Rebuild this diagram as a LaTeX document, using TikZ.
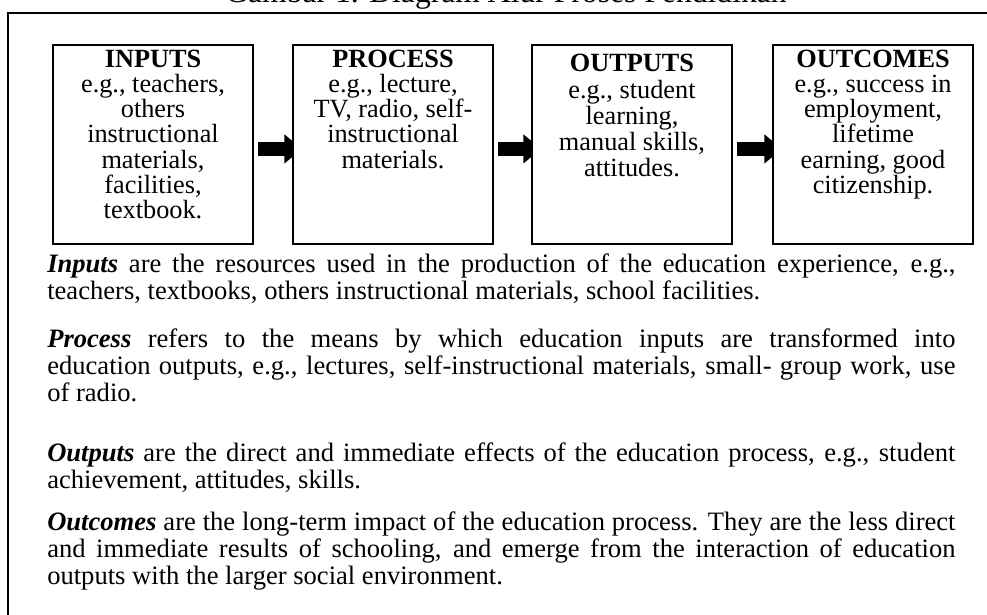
\documentclass[tikz,border=0pt]{standalone}
\usepackage{fontspec}
\setmainfont{Liberation Serif}
\usetikzlibrary{arrows.meta,backgrounds}

\tikzset{
  stage/.style={draw, line width=1.4pt, fill=white, anchor=north west,
    inner xsep=0.1cm, inner ysep=0.1375cm, minimum width=5cm, minimum height=4.975cm},
  flow/.style={line width=0.35cm, -{Triangle[length=0.44cm,width=0.7cm]}},
  para/.style={anchor=north west, inner sep=0, text width=22.7cm, align=justify,
    font=\fontsize{18.9}{19.2}\selectfont},
}
\newcommand{\stagetext}[1]{\parbox[c][4.7cm][t]{4.8cm}{\centering\fontsize{18.7}{17.8}\selectfont #1}}

\begin{document}
\begin{tikzpicture}[x=0.025cm, y=-0.025cm]
    \useasboundingbox (0,0) rectangle (987,614);
    \clip (0,0) rectangle (987,614);

    \node[anchor=base, inner sep=0, font=\fontsize{22.5}{24}\selectfont] (title) at (506,2) {Gambar 1. Diagram Alur Proses Pendidikan};
    \draw[line width=1.5pt] (995,13) -- (8,13) -- (8,620);

    % the four stages
    \node[stage] (inputs) at (52,44) {\stagetext{\textbf{INPUTS}\\ e.g., teachers,\\ others\\ instructional\\ materials,\\ facilities,\\ textbook.}};
    \node[stage] (process) at (292,44) {\stagetext{\textbf{PROCESS}\\ e.g., lecture,\\ TV, radio, self-\\ instructional\\ materials.}};
    \node[stage] (outputs) at (531,44) {\stagetext{\fontsize{18.7}{18.6}\selectfont\vspace*{0.1cm}\textbf{OUTPUTS}\\ e.g., student\\ learning,\\ manual skills,\\ attitudes.}};
    \node[stage] (outcomes) at (772,44) {\stagetext{\textbf{OUTCOMES}\\ e.g., success in\\ employment,\\ lifetime\\ earning, good\\ citizenship.}};

    \begin{scope}[on background layer]
        \draw[flow] ([xshift=0.1cm,yshift=-0.11cm]inputs.east) -- ([xshift=0.25cm,yshift=-0.11cm]process.west);
        \draw[flow] ([xshift=0.1cm,yshift=-0.11cm]process.east) -- ([xshift=0.25cm,yshift=-0.11cm]outputs.west);
        \draw[flow] ([xshift=0.1cm,yshift=-0.11cm]outputs.east) -- ([xshift=0.25cm,yshift=-0.11cm]outcomes.west);
    \end{scope}

    % the notes below
    \node[para] (inputsnote) at (47,253) {\textbf{\textit{Inputs}} are the resources used in the production of the education experience, e.g.,\linebreak teachers, textbooks, others instructional materials, school facilities.};
    \node[para] (processnote) at (47,328) {\textbf{\textit{Process}} refers to the means by which education inputs are transformed into\linebreak education outputs, e.g., lectures, self-instructional materials, small- group work, use\linebreak of radio.};
    \node[para] (outputsnote) at (47,442) {\textbf{\textit{Outputs}} are the direct and immediate effects of the education process, e.g., student\linebreak achievement, attitudes, skills.};
    \node[para] (outcomesnote) at (47,511) {\textbf{\textit{Outcomes}} are the long-term impact of the education process. They are the less direct\linebreak and immediate results of schooling, and emerge from the interaction of education\linebreak outputs with the larger social environment.};
\end{tikzpicture}
\end{document}
